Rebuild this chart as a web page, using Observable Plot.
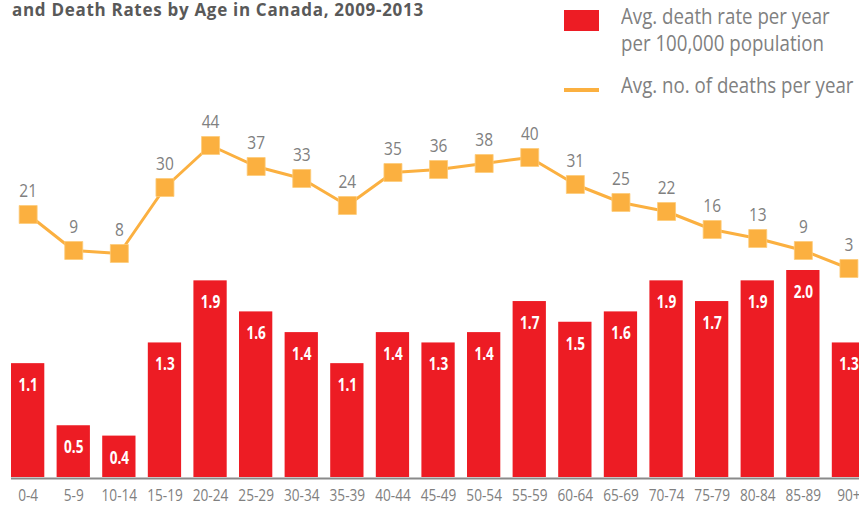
<!DOCTYPE html>
<html>
<head>
<meta charset="utf-8">
<script src="https://cdn.jsdelivr.net/npm/d3@7"></script>
<script src="https://cdn.jsdelivr.net/npm/@observablehq/plot@0.6"></script>
<style>
  html, body { margin: 0; padding: 0; background: #fff; }
  #wrap { position: relative; width: 859px; height: 506px; overflow: hidden; background: #fff; }
  #wrap > svg { position: absolute; left: 0; top: 0; }
  .title { position: absolute; left: 12px; top: 1px; font-family: 'Open Sans', sans-serif; font-weight: bold; font-size: 17px; letter-spacing: 0.7px; color: #595959; white-space: nowrap; line-height: 17px; }
  .lg-text { position: absolute; left: 621px; font-family: 'Open Sans', sans-serif; font-size: 21px; line-height: 27px; color: #808080; white-space: nowrap; transform: scaleX(0.89); transform-origin: left top; }
  .lg-swatch { position: absolute; left: 564px; }
</style>
</head>
<body>
<div id="wrap">
  <div class="title">and Death Rates by Age in Canada, 2009-2013</div>
  <div class="lg-swatch" style="top:10px;width:35px;height:21px;background:#ED1C24"></div>
  <div class="lg-text" style="top:3px">Avg. death rate per year<br>per 100,000 population</div>
  <div class="lg-swatch" style="top:88px;width:35px;height:4px;background:#FBB040"></div>
  <div class="lg-text" style="top:72px">Avg. no. of deaths per year</div>
</div>
<script>
const ages = ["0-4","5-9","10-14","15-19","20-24","25-29","30-34","35-39","40-44","45-49","50-54","55-59","60-64","65-69","70-74","75-79","80-84","85-89","90+"];
const rates = [1.1,0.5,0.4,1.3,1.9,1.6,1.4,1.1,1.4,1.3,1.4,1.7,1.5,1.6,1.9,1.7,1.9,2.0,1.3];
const deaths = [21,9,8,30,44,37,33,24,35,36,38,40,31,25,22,16,13,9,3];

const data = ages.map((a, i) => ({age: a, rate: rates[i], deaths: deaths[i]}));
const font = "'Open Sans', sans-serif";
const W = 859, H = 506;
const xScale = {type: "band", domain: ages, range: [-1.3, 877.4], padding: 0.27, round: false, label: null};

const bars = Plot.plot({
  width: W, height: H,
  marginLeft: 11, marginRight: 0, marginTop: 0, marginBottom: 29,
  style: {background: "transparent", fontFamily: font, fontSize: "15.5px", color: "#808080"},
  x: {...xScale, tickSize: 0, tickPadding: 12},
  y: {domain: [0, 2], range: [477, 270], axis: null},
  marks: [
    Plot.barY(data, {x: "age", y: "rate", fill: "#ED1C24"}),
    Plot.ruleY([0], {stroke: "#8a8a8a", strokeWidth: 2, dy: 1}),
    Plot.text(data, {x: "age", y: "rate", text: d => d.rate.toFixed(1), dy: 22, fill: "white", fontWeight: "bold", fontSize: 17, fontFamily: font})
  ]
});

const line = Plot.plot({
  width: W, height: H,
  marginLeft: 11, marginRight: 0, marginTop: 0, marginBottom: 29,
  style: {background: "transparent", fontFamily: font},
  x: {...xScale, axis: null},
  y: {domain: [0, 44], range: [277, 145], axis: null},
  marks: [
    Plot.lineY(data, {x: "age", y: "deaths", stroke: "#FBB040", strokeWidth: 3}),
    Plot.dot(data, {x: "age", y: "deaths", symbol: "square", r: 10.15, fill: "#FBB040", stroke: "#FDCB7A", strokeWidth: 0.8}),
    Plot.text(data, {x: "age", y: "deaths", text: d => String(d.deaths), dy: -23, fill: "#808080", fontSize: 18, fontFamily: font})
  ]
});

const wrap = document.getElementById("wrap");
wrap.appendChild(bars);
wrap.appendChild(line);

function condense(svg, label, f) {
  svg.querySelectorAll(`g[aria-label="${label}"] text`).forEach(t => {
    const L = t.getComputedTextLength();
    t.setAttribute("textLength", L * f);
    t.setAttribute("lengthAdjust", "spacingAndGlyphs");
  });
}
condense(bars, "x-axis tick label", 0.88);
condense(bars, "text", 0.8);
condense(line, "text", 0.86);
</script>
</body>
</html>
